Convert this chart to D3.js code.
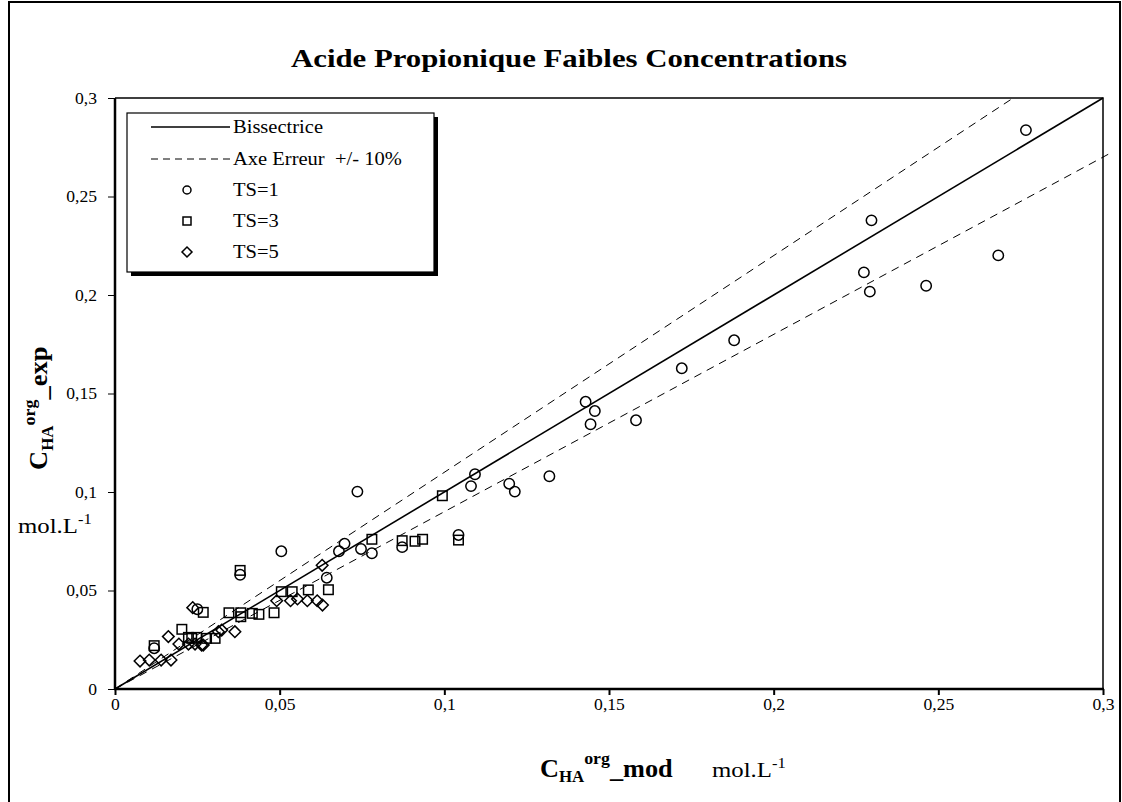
<!DOCTYPE html>
<html><head><meta charset="utf-8">
<script src="https://cdn.jsdelivr.net/npm/d3@7/dist/d3.min.js"></script>
<style>body{margin:0;background:#fff}svg text{font-family:"Liberation Serif","Times New Roman",serif;fill:#000}</style>
</head><body>
<svg id="c" width="1122" height="802"></svg>
<script>
const titleText = "Acide Propionique Faibles Concentrations";
const xTicks = [0, 0.05, 0.1, 0.15, 0.2, 0.25, 0.3];
const yTicks = [0, 0.05, 0.1, 0.15, 0.2, 0.25, 0.3];
const tickLabels = ["0", "0,05", "0,1", "0,15", "0,2", "0,25", "0,3"];
const legendLabels = ["Bissectrice", "Axe Erreur  +/- 10%", "TS=1", "TS=3", "TS=5"];
const ts1 = [[0.2766,0.2837],[0.2297,0.2379],[0.2274,0.2115],[0.2292,0.2017],[0.2463,0.2047],[0.2682,0.2201],
 [0.188,0.177],[0.1721,0.1628],[0.1429,0.1458],[0.1457,0.1411],[0.1444,0.1344],[0.1582,0.1364],
 [0.1093,0.1090],[0.1081,0.1030],[0.1197,0.1042],[0.1214,0.1002],[0.1319,0.1080],
 [0.0736,0.1002],[0.0505,0.0699],[0.0697,0.0738],[0.0680,0.0699],[0.0747,0.0711],[0.0780,0.0689],
 [0.0872,0.0720],[0.1043,0.0782],[0.0643,0.0565],[0.0380,0.0580],[0.0250,0.0405],[0.0119,0.0207]];
const ts3 = [[0.0994,0.0981],[0.0780,0.0760],[0.0872,0.0753],[0.0911,0.0750],[0.0934,0.0760],[0.1043,0.0756],
 [0.0648,0.0504],[0.0505,0.0494],[0.0538,0.0494],[0.0587,0.0503],
 [0.0380,0.0602],[0.0346,0.0387],[0.0382,0.0387],[0.0417,0.0384],[0.0437,0.0379],[0.0483,0.0387],[0.0382,0.0367],
 [0.0268,0.0389],[0.0203,0.0303],[0.0119,0.0220],
 [0.0223,0.0262],[0.0248,0.0262],[0.0278,0.0257],[0.0304,0.0257],[0.0233,0.0257]];
const ts5 = [[0.0629,0.0628],[0.0491,0.0448],[0.0533,0.0448],[0.0554,0.0457],[0.0584,0.0448],[0.0614,0.0448],[0.0630,0.0426],
 [0.0314,0.0291],[0.0324,0.0299],[0.0364,0.0291],[0.0263,0.0223],[0.0236,0.0413],[0.0162,0.0266],
 [0.0076,0.0142],[0.0104,0.0147],[0.0140,0.0147],[0.0170,0.0147],[0.0194,0.0228],[0.0223,0.0228],[0.0243,0.0228],[0.0268,0.0223]];
const bisLine = [[0,0],[0.3,0.3]];
const errUp = [[0,0],[0.3/1.1,0.3]];
const errDown = [[0,0],[0.302,0.2718]];

const svg = d3.select("#c");
const L=115, R=1103, T=98, B=689;
const x = d3.scaleLinear().domain([0,0.3]).range([L,R]);
const y = d3.scaleLinear().domain([0,0.3]).range([B,T]);
const widen = [];
const setW = (n,k)=>{const w=n.getComputedTextLength(); n.setAttribute("textLength",(w*k).toFixed(1)); n.setAttribute("lengthAdjust","spacingAndGlyphs");};

svg.append("rect").attr("x",9).attr("y",2).attr("width",1111).attr("height",806)
  .attr("fill","none").attr("stroke","#000").attr("stroke-width",2);

svg.append("text").attr("x",569).attr("y",67).attr("text-anchor","middle")
  .attr("font-size",25).attr("font-weight","bold").text(titleText)
  .attr("textLength",556).attr("lengthAdjust","spacingAndGlyphs");

svg.append("path").attr("d",`M${L},${T}H${R}V${B}`).attr("fill","none").attr("stroke","#000").attr("stroke-width",1.5);

svg.append("clipPath").attr("id","pc").append("rect")
  .attr("x",L).attr("y",T-1).attr("width",R-L+10).attr("height",B-T+1);
const line = d3.line().x(d=>x(d[0])).y(d=>y(d[1]));
const g = svg.append("g").attr("clip-path","url(#pc)");
g.append("path").datum(errUp).attr("d",line).attr("stroke","#000").attr("stroke-width",1).attr("stroke-dasharray","8,6").attr("fill","none");
g.append("path").datum(errDown).attr("d",line).attr("stroke","#000").attr("stroke-width",1).attr("stroke-dasharray","8,6").attr("fill","none");
g.append("path").datum(bisLine).attr("d",line).attr("stroke","#000").attr("stroke-width",1.6).attr("fill","none");

const xa = svg.append("g").attr("transform",`translate(0,${B})`)
  .call(d3.axisBottom(x).tickValues(xTicks).tickSize(6).tickPadding(4).tickFormat((d,i)=>tickLabels[i]));
const ya = svg.append("g").attr("transform",`translate(${L},0)`)
  .call(d3.axisLeft(y).tickValues(yTicks).tickSize(7).tickPadding(11).tickFormat((d,i)=>tickLabels[i]));
[xa,ya].forEach(a=>{a.select(".domain").remove();a.selectAll("text").attr("font-size",16).attr("font-family","Liberation Serif").each(function(){widen.push([this,1.1]);});});
xa.selectAll("line").attr("stroke-width",2);
ya.selectAll("line").attr("stroke-width",1);
svg.append("line").attr("x1",L).attr("x2",L).attr("y1",T).attr("y2",B+1).attr("stroke","#000").attr("stroke-width",2.5);
svg.append("line").attr("x1",L-1).attr("x2",R+1).attr("y1",B).attr("y2",B).attr("stroke","#000").attr("stroke-width",2.5);

const circ = (sel,cx,cy,r)=>sel.append("circle").attr("cx",cx).attr("cy",cy).attr("r",r);
const sq = (sel,cx,cy,s)=>sel.append("rect").attr("x",cx-s/2).attr("y",cy-s/2).attr("width",s).attr("height",s);
const dia = (sel,cx,cy,s)=>sel.append("path").attr("d",`M${cx},${cy-s}L${cx+s},${cy}L${cx},${cy+s}L${cx-s},${cy}Z`);
const mg = svg.append("g").attr("fill","none").attr("stroke","#000").attr("stroke-width",1.5);
ts5.forEach(d=>dia(mg,x(d[0]),y(d[1]),5.8));
ts3.forEach(d=>sq(mg,x(d[0]),y(d[1]),9.5));
ts1.forEach(d=>circ(mg,x(d[0]),y(d[1]),5.2));

svg.append("rect").attr("x",131).attr("y",117).attr("width",307).attr("height",159).attr("fill","#000");
svg.append("rect").attr("x",127).attr("y",113).attr("width",307).attr("height",159).attr("fill","#fff").attr("stroke","#000").attr("stroke-width",1.2);
const ly = [127,159,190,221,252];
svg.append("line").attr("x1",151).attr("x2",230).attr("y1",ly[0]).attr("y2",ly[0]).attr("stroke","#000").attr("stroke-width",1.5);
svg.append("line").attr("x1",151).attr("x2",230).attr("y1",ly[1]).attr("y2",ly[1]).attr("stroke","#000").attr("stroke-width",1).attr("stroke-dasharray","7,5");
const lg = svg.append("g").attr("fill","none").attr("stroke","#000").attr("stroke-width",1.5);
circ(lg,187,ly[2],4); sq(lg,187,ly[3],8); dia(lg,187,ly[4],5);
legendLabels.forEach((t,i)=>{const e=svg.append("text").attr("x",233).attr("y",ly[i]+6).attr("font-size",18)
  .style("white-space","pre").text(t); widen.push([e.node(),1.14]);});

const yt = svg.append("text").attr("transform","translate(47,470) rotate(-90)");
yt.append("tspan").attr("font-size",25).attr("font-weight","bold").text("C");
yt.append("tspan").attr("font-size",16).attr("font-weight","bold").attr("dy",6).text("HA");
yt.append("tspan").attr("font-size",17).attr("font-weight","bold").attr("dy",-18).text("org");
yt.append("tspan").attr("font-size",25).attr("font-weight","bold").attr("dy",12).text("_exp");
widen.push([yt.node(),1.06]);
const yu = svg.append("text").attr("x",18).attr("y",533).attr("font-size",21);
yu.append("tspan").text("mol.L");
yu.append("tspan").attr("font-size",14).attr("dy",-9).text("-1");
widen.push([yu.node(),1.18]);

const xt = svg.append("text").attr("x",540).attr("y",777);
xt.append("tspan").attr("font-size",25).attr("font-weight","bold").text("C");
xt.append("tspan").attr("font-size",16).attr("font-weight","bold").attr("dy",5).text("HA");
xt.append("tspan").attr("font-size",17).attr("font-weight","bold").attr("dy",-18).text("org");
xt.append("tspan").attr("font-size",25).attr("font-weight","bold").attr("dy",13).text("_mod");
widen.push([xt.node(),1.05]);
const xu = svg.append("text").attr("x",712).attr("y",777).attr("font-size",21);
xu.append("tspan").text("mol.L");
xu.append("tspan").attr("font-size",14).attr("dy",-9).text("-1");
widen.push([xu.node(),1.18]);

widen.forEach(([n,k])=>setW(n,k));
</script>
</body></html>
